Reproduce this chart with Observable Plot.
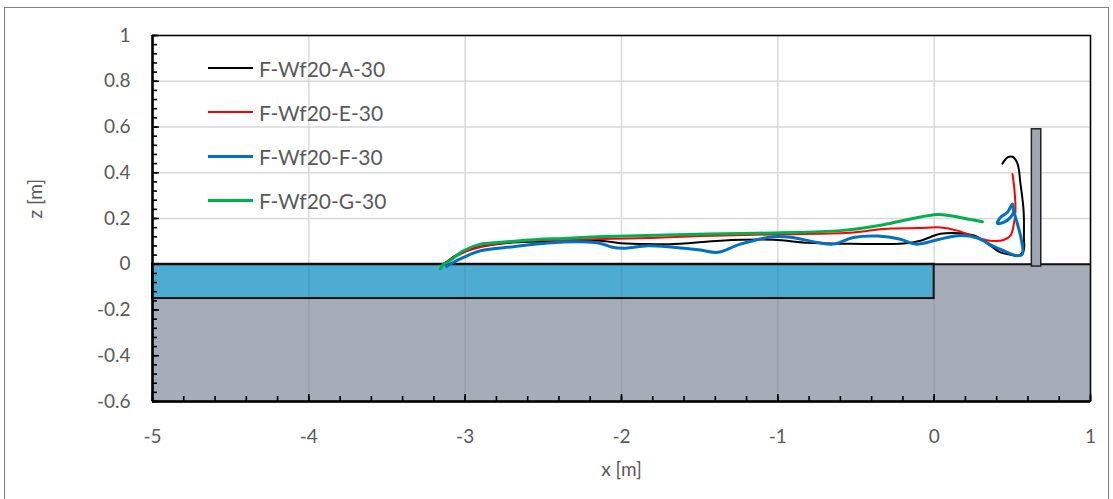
<!DOCTYPE html>
<html><head><meta charset="utf-8">
<script src="https://cdn.jsdelivr.net/npm/d3@7"></script>
<script src="https://cdn.jsdelivr.net/npm/@observablehq/plot@0.6"></script>
<style>
body{margin:0;background:#fff;}
#wrap{position:relative;width:1113px;height:499px;overflow:hidden;font-family:Lato,"Open Sans",sans-serif;}
#border{position:absolute;left:4px;top:7px;width:1105px;height:530px;border:1.5px solid #7f7f7f;box-sizing:border-box;pointer-events:none;}
#legend{position:absolute;left:208px;top:55px;}
.leg{display:flex;align-items:center;height:26px;margin-bottom:18px;font-size:21px;color:#595959;}
.leg .l{display:inline-block;width:45px;margin-right:6px;}
</style></head>
<body>
<div id="wrap"><div id="border"></div></div>
<script>
// Series names (legend) and tick labels
const seriesNames = ["F-Wf20-A-30","F-Wf20-E-30","F-Wf20-F-30","F-Wf20-G-30"];
const xTicks = [-5,-4,-3,-2,-1,0,1];
const zTicks = [-0.6,-0.4,-0.2,0,0.2,0.4,0.6,0.8,1];

// Trajectories x [m], z [m]
const aX = [-3.139,-3.030,-2.902,-2.774,-2.582,-2.39,-2.134,-2.006,-1.834,-1.623,-1.367,-1.028,-0.81,-0.599,-0.196,-0.087,0.041,0.168,0.277,0.360,0.424,0.488,0.540,0.572,0.574,0.572,0.552,0.533,0.501,0.469,0.437];
const aZ = [0,0.050,0.077,0.090,0.098,0.100,0.103,0.092,0.088,0.090,0.103,0.107,0.094,0.090,0.091,0.103,0.133,0.135,0.120,0.081,0.052,0.042,0.037,0.059,0.117,0.234,0.352,0.440,0.470,0.467,0.440];
const eX = [-3.139,-3.062,-2.966,-2.793,-2.582,-2.134,-1.814,-1.411,-0.983,-0.516,-0.324,-0.107,0.041,0.149,0.277,0.360,0.444,0.488,0.508,0.520,0.514,0.501];
const eZ = [0,0.033,0.063,0.090,0.103,0.110,0.115,0.125,0.131,0.139,0.154,0.158,0.161,0.147,0.115,0.103,0.106,0.125,0.168,0.234,0.322,0.395];
const fX = [-3.12,-3.094,-3.011,-2.902,-2.691,-2.473,-2.262,-2.134,-2.058,-1.974,-1.834,-1.667,-1.495,-1.386,-1.239,-1.028,-0.919,-0.746,-0.644,-0.516,-0.362,-0.215,-0.119,0.021,0.149,0.277,0.360,0.444,0.533,0.565,0.559,0.533,0.508,0.501,0.469,0.424,0.405,0.444,0.488,0.508];
const fZ = [-0.01,0.001,0.030,0.059,0.077,0.093,0.098,0.091,0.074,0.070,0.081,0.074,0.062,0.052,0.088,0.120,0.118,0.095,0.088,0.117,0.123,0.109,0.088,0.107,0.125,0.115,0.085,0.059,0.037,0.045,0.103,0.176,0.234,0.263,0.227,0.205,0.179,0.183,0.205,0.227];
const gX = [-3.158,-3.139,-3.113,-3.011,-2.902,-2.793,-2.582,-2.371,-2.153,-1.834,-1.450,-1.028,-0.599,-0.324,-0.151,0.021,0.105,0.213,0.309];
const gZ = [-0.02,0,0.008,0.059,0.088,0.095,0.106,0.113,0.120,0.126,0.132,0.137,0.147,0.173,0.198,0.217,0.212,0.198,0.186];

// Geometry of the flume
const ground = [{x1:-5, x2:1, z1:-0.6, z2:0}];
const water  = [{x1:-5, x2:0, z1:-0.15, z2:0}];
const wall   = [{x1:0.625, x2:0.685, z1:-0.01, z2:0.59}];

const colors = ["#000000","#ff0000","#0070c0","#00b050"];
const widths = [2, 2, 3, 3];

const data = [];
[[aX,aZ],[eX,eZ],[fX,fZ],[gX,gZ]].forEach(([xs,zs],i)=>xs.forEach((x,j)=>data.push({series:seriesNames[i], x, z:zs[j]})));

const xMinor = d3.range(-5, 1.0001, 0.2).map(v=>+v.toFixed(2));
const zMinor = d3.range(-0.6, 1.0001, 0.04).map(v=>+v.toFixed(2));
const txt = "#595959";

const chart = Plot.plot({
  width: 1113, height: 499,
  marginLeft: 152, marginRight: 23, marginTop: 35, marginBottom: 98,
  style: {fontFamily: "Lato, 'Open Sans', sans-serif", background: "transparent"},
  x: {domain: [-5, 1]},
  y: {domain: [-0.6, 1]},
  color: {domain: seriesNames, range: colors},
  marks: [
    Plot.gridX(xTicks, {stroke: "#d9d9d9", strokeOpacity: 1, strokeWidth: 1.5}),
    Plot.gridY(zTicks, {stroke: "#d9d9d9", strokeOpacity: 1, strokeWidth: 1.5}),
    Plot.rect(ground, {x1:"x1", x2:"x2", y1:"z1", y2:"z2", fill: "#a6acb8"}),
    Plot.rect(water, {x1:"x1", x2:"x2", y1:"z1", y2:"z2", fill: "#4eabd2", stroke: "#111", strokeWidth: 2}),
    Plot.gridX(xTicks, {stroke: "#000", strokeOpacity: 0.07, strokeWidth: 1.5, y1: -0.6, y2: 0}),
    Plot.ruleY([0], {stroke: "#111", strokeWidth: 2}),
    Plot.rect(wall, {x1:"x1", x2:"x2", y1:"z1", y2:"z2", fill: "#a0a7b3", stroke: "#222", strokeWidth: 1.5}),
    ...seriesNames.map((s,i)=>Plot.line(data.filter(d=>d.series===s), {x:"x", y:"z", stroke:"series", strokeWidth: widths[i], curve:"catmull-rom"})),
    // inward ticks (shifted into the frame)
    Plot.axisX(xMinor, {anchor:"bottom", tickSize:5, dy:-5, text:null, stroke:"#000", strokeWidth:1.6}),
    Plot.axisX(xTicks, {anchor:"bottom", tickSize:7, dy:-7, text:null, stroke:"#000", strokeWidth:1.6}),
    Plot.axisY(zMinor, {anchor:"left", tickSize:5, dx:5, text:null, stroke:"#000", strokeWidth:1.6}),
    Plot.axisY(zTicks, {anchor:"left", tickSize:7, dx:7, text:null, stroke:"#000", strokeWidth:1.6}),
    // labels
    Plot.axisX(xTicks, {anchor:"bottom", tickSize:0, tickPadding:28, fontSize:19, color: txt, tickFormat: d=>String(d), label:null}),
    Plot.axisY(zTicks, {anchor:"left", tickSize:0, tickPadding:22, fontSize:19, color: txt, tickFormat: d=>String(d), label:null}),
    Plot.frame({stroke: "#000", strokeWidth: 1.5}),
    Plot.ruleX([-5], {stroke:"#000", strokeWidth: 2.5}),
    Plot.ruleY([-0.6], {stroke:"#000", strokeWidth: 2.5}),
    Plot.text(["x [m]"], {frameAnchor:"bottom", dy: 74, fontSize: 19, fill: txt}),
    Plot.text(["z [m]"], {frameAnchor:"left", dx: -117, rotate: -90, fontSize: 19, fill: txt})
  ]
});
const wrap = document.getElementById("wrap");
wrap.insertBefore(chart, wrap.firstChild);
chart.style.position = "absolute"; chart.style.left = "0"; chart.style.top = "0";

const leg = document.createElement("div");
leg.id = "legend";
seriesNames.forEach((s,i)=>{
  const row = document.createElement("div");
  row.className = "leg";
  const l = document.createElement("span");
  l.className = "l";
  l.style.borderTop = widths[i] + "px solid " + colors[i];
  row.appendChild(l);
  row.appendChild(document.createTextNode(s));
  leg.appendChild(row);
});
wrap.appendChild(leg);
</script>
</body></html>
